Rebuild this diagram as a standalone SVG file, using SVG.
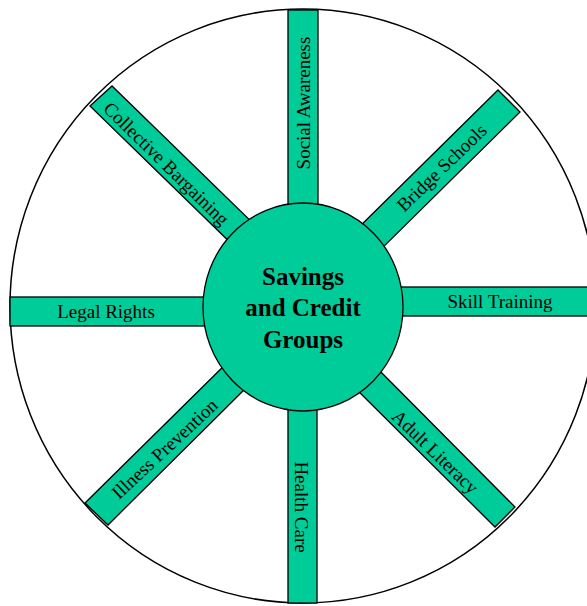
<svg xmlns="http://www.w3.org/2000/svg" width="587" height="606" viewBox="0 0 587 606">
  <style>
    .spoke { fill: #00cc99; stroke: #000; stroke-width: 1.3; stroke-linejoin: miter; }
    .label { font-family: "Liberation Serif", "Times New Roman", serif; font-size: 19px; fill: #000; text-anchor: middle; }
    .hub-text { font-family: "Liberation Serif", "Times New Roman", serif; font-size: 25px; font-weight: bold; fill: #000; text-anchor: middle; }
  </style>
  <rect width="587" height="606" fill="#fff"/>

  <!-- outer rim -->
  <ellipse cx="303" cy="306" rx="293" ry="297" fill="#fff" stroke="#000" stroke-width="1.5"/>

  <g id="connectors">
    <!-- spokes: each is drawn as a bar, its inner end hidden under the hub -->
  </g>

  <g id="social-awareness">
    <rect class="spoke" x="288" y="10" width="30" height="215"/>
    <text class="label" transform="translate(304,103) rotate(-90)" y="6">Social Awareness</text>
  </g>

  <g id="bridge-schools">
    <polygon class="spoke" points="498,90 520,112 371,259 349,237"/>
    <text class="label" transform="translate(442,168) rotate(-44)" y="6">Bridge Schools</text>
  </g>

  <g id="skill-training">
    <rect class="spoke" x="390" y="287" width="210" height="29"/>
    <text class="label" x="500" y="308">Skill Training</text>
  </g>

  <g id="adult-literacy">
    <polygon class="spoke" points="368,359 515,507 495,527 346,379"/>
    <text class="label" transform="translate(435,452) rotate(44)" y="6">Adult Literacy</text>
  </g>

  <g id="health-care">
    <rect class="spoke" x="288" y="395" width="29" height="208"/>
    <text class="label" transform="translate(301,507) rotate(90)" y="6">Health Care</text>
  </g>

  <g id="illness-prevention">
    <polygon class="spoke" points="85,503 234,356 256,378 108,525"/>
    <text class="label" transform="translate(165,449) rotate(-43)" y="6">Illness Prevention</text>
  </g>

  <g id="legal-rights">
    <rect class="spoke" x="10" y="297" width="210" height="29"/>
    <text class="label" x="106" y="318">Legal Rights</text>
  </g>

  <g id="collective-bargaining">
    <polygon class="spoke" points="90,106 112,86 262,232 240,252"/>
    <text class="label" transform="translate(166,164) rotate(44.5)" y="6">Collective Bargaining</text>
  </g>

  <g id="hub">
    <ellipse cx="303" cy="307" rx="100" ry="104" fill="#00cc99" stroke="#000" stroke-width="1.3"/>
    <text class="hub-text" x="303" y="285">Savings</text>
    <text class="hub-text" x="303" y="316">and Credit</text>
    <text class="hub-text" x="303" y="348">Groups</text>
  </g>
</svg>
